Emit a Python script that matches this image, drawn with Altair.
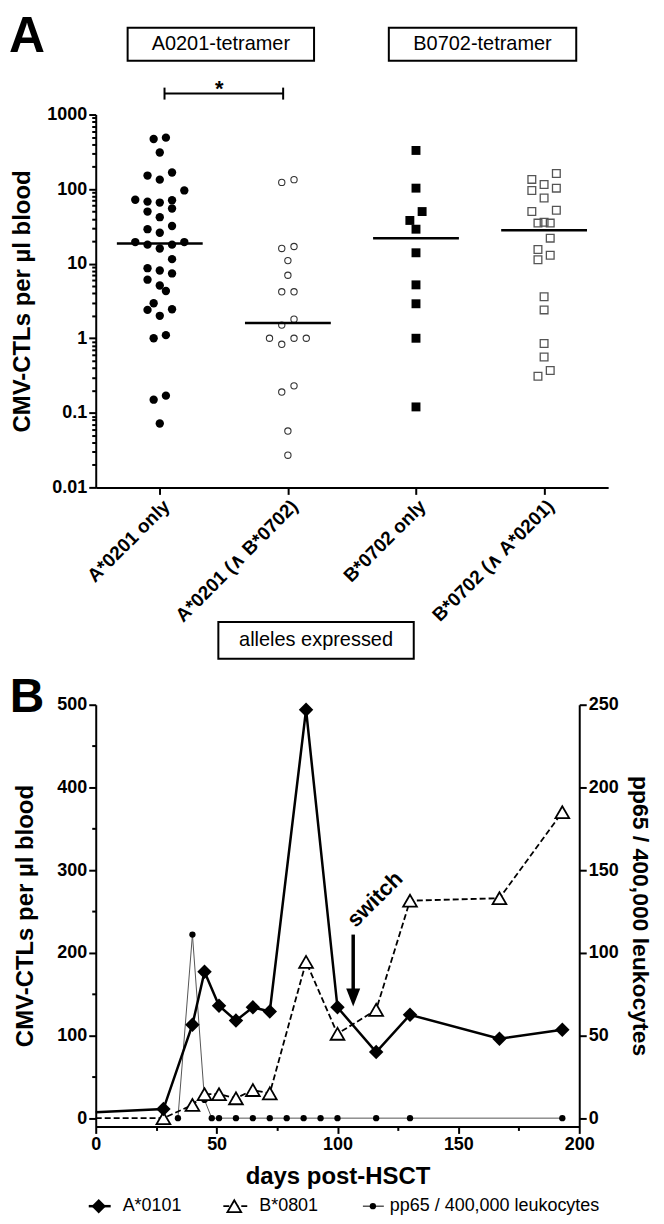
import json
import math
import altair as alt
import pandas as pd

FONT = "Liberation Sans"

# ---------------- Panel A data ----------------
categories = ["A*0201 only", "A*0201 (∧ B*0702)", "B*0702 only", "B*0702 (∧ A*0201)"]
tetramers = ["A0201-tetramer", "B0702-tetramer"]
a0201_only = [490, 470, 310, 167, 152, 134, 96, 72, 71, 68, 66, 55, 50, 42, 32, 29, 26,
              19.5, 19.5, 18, 18, 16, 11.5, 8.7, 8.1, 7.4, 6.1, 5.1, 4.3, 2.95, 2.45, 2.4,
              2.0, 1.1, 1.0, 0.17, 0.15, 0.072]
a0201_with_b0702 = [134, 123, 17, 16, 11, 7.0, 4.2, 4.2, 1.8, 1.5, 1.0, 1.0, 1.0, 0.83,
                    0.23, 0.19, 0.057, 0.027]
b0702_only = [330, 103, 50, 38, 29, 14, 5.2, 2.9, 1.0, 0.12]
b0702_with_a0201 = [162, 135, 115, 103, 96, 76, 52, 50, 36, 35, 35, 22, 15.5, 13, 11.3,
                    3.6, 2.4, 0.85, 0.56, 0.37, 0.31]
medians = [18.6, 1.6, 22, 28]
x_title_a = "alleles expressed"
y_title = "CMV-CTLs per µl blood"

# ---------------- Panel B data ----------------
ctl_days = [0, 28, 40, 45, 51, 58, 65, 72, 87, 100, 116, 130, 167, 193]
a0101 = [7, 11, 113, 177, 136, 118, 134, 129, 494, 134, 80, 125, 96, 107]
b0801 = [0, 0, 16, 29, 29, 24, 34, 30, 189, 102, 131, 263, 266, 370]
pp65_days = [34, 40, 45, 48, 51, 58, 65, 72, 79, 86, 93, 100, 116, 130, 193]
pp65 = [0, 111, 11, 0, 0, 0, 0, 0, 0, 0, 0, 0, 0, 0, 0]
series_names = ["A*0101", "B*0801", "pp65 / 400,000 leukocytes"]
switch_label = "switch"
switch_day = 106.5
switch_top, switch_end, switch_head = 222, 152, 146

# ---------------- helpers ----------------
one = pd.DataFrame({"a": [0]})


def txt(text, x, y, size, weight="normal", angle=None, align="center", baseline="middle"):
    kw = dict(text=text, fontSize=size, fontWeight=weight, align=align,
              baseline=baseline, font=FONT, color="black")
    if angle is not None:
        kw["angle"] = angle
    return alt.Chart(one).mark_text(**kw).encode(x=alt.value(x), y=alt.value(y))


def box(x1, x2, y1, y2):
    return alt.Chart(one).mark_rect(fill="white", stroke="black", strokeWidth=2).encode(
        x=alt.value(x1), x2=alt.value(x2), y=alt.value(y1), y2=alt.value(y2))


def hline(x1, x2, y, w=2, dash=None):
    kw = dict(color="black", strokeWidth=w)
    if dash:
        kw["strokeDash"] = dash
    return alt.Chart(one).mark_rule(**kw).encode(x=alt.value(x1), x2=alt.value(x2), y=alt.value(y))


def vline(x, y1, y2, w=2):
    return alt.Chart(one).mark_rule(color="black", strokeWidth=w).encode(
        x=alt.value(x), y=alt.value(y1), y2=alt.value(y2))


# beeswarm-like row arrangement (computed from the values)
STEP = 0.0957


def swarm_slots(values, thresh=0.165):
    order = sorted(range(len(values)), key=lambda i: -values[i])
    rows = []
    for i in order:
        lv = math.log10(values[i])
        if rows and rows[-1]["top"] - lv <= thresh:
            rows[-1]["items"].append(i)
        else:
            rows.append({"top": lv, "items": [i]})
    slots = [0.0] * len(values)
    for r in rows:
        items = sorted(r["items"], key=lambda i: values[i])
        n = len(items)
        pos = sorted([k - (n - 1) / 2 for k in range(n)], key=lambda s: (abs(s), s))
        for i, s in zip(items, pos):
            slots[i] = s
    return slots


recs = []
for ci, vals in enumerate([a0201_only, a0201_with_b0702, b0702_only, b0702_with_a0201]):
    for v, s in zip(vals, swarm_slots(vals)):
        recs.append({"cat": ci, "value": v, "slot": s})
dfA = pd.DataFrame(recs)

log_ticks = [k * 10.0 ** e for e in range(-2, 3) for k in range(1, 10)] + [1000.0]
decade = "abs(log(datum.value)/LN10 - round(log(datum.value)/LN10)) < 0.001"

axA_y = alt.Axis(values=log_ticks, labelExpr=f"{decade} ? toString(datum.value) : ''",
                 tickSize={"condition": {"test": decade, "value": 7}, "value": 4},
                 labelOverlap=False, labelFlush=False, title=y_title,
                 titleX=-73, titleY=187, titleBaseline="middle", titleAngle=270)
axA_x = alt.Axis(values=[0, 1, 2, 3],
                 labelExpr=json.dumps(categories, ensure_ascii=False) + "[datum.value]",
                 labelAngle=315, tickSize=7, title=None, labelOverlap=False, labelFlush=False,
                 labelFontSize=19)


def xA(f):
    return alt.X(f, type="quantitative",
                 scale=alt.Scale(domain=[-0.5, 3.5], nice=False, zero=False), axis=axA_x)


def yA(f):
    return alt.Y(f, type="quantitative",
                 scale=alt.Scale(type="log", domain=[0.01, 1000], nice=False), axis=axA_y)


baseA = alt.Chart(dfA).transform_calculate(xpos=f"datum.cat + datum.slot * {STEP}")
stylesA = [
    dict(shape="circle", filled=True, color="black", size=70, opacity=1),
    dict(shape="circle", filled=False, color="#333333", size=40, strokeWidth=1.1, opacity=1),
    dict(shape="square", filled=True, color="black", size=80, opacity=1),
    dict(shape="square", filled=False, color="#555555", size=60, strokeWidth=1.3, opacity=1),
]
pointsA = [baseA.transform_filter(f"datum.cat == {i}").mark_point(**st).encode(
    x=xA("xpos:Q"), y=yA("value:Q")) for i, st in enumerate(stylesA)]

dfM = pd.DataFrame({"cat": list(range(4)), "median": medians})
medA = alt.Chart(dfM).transform_calculate(
    x1="datum.cat - 0.335", x2="datum.cat + 0.335").mark_rule(
    color="black", strokeWidth=2.5).encode(x=xA("x1:Q"), x2="x2:Q", y=yA("median:Q"))

annA = [
    txt("A", -69, -63, 50, "bold", baseline="alphabetic"),
    box(32, 219, -87, -54), txt(tetramers[0], 125.5, -70.5, 20),
    box(294, 482, -87, -54), txt(tetramers[1], 388, -70.5, 20),
    hline(69, 188, -21, 2), vline(69, -27, -15, 2), vline(188, -27, -15, 2),
    txt("*", 124, -19, 22, "bold", baseline="alphabetic"),
    box(123, 319, 509, 546), txt(x_title_a, 221, 527.5, 20),
]

panelA = alt.layer(*pointsA, medA, *annA).properties(width=514, height=374)

# ---------------- Panel B ----------------
dfC = pd.DataFrame({"day": ctl_days, "a0101": a0101, "b0801": b0801})
dfP = pd.DataFrame({"day": pp65_days, "pp65": pp65})
dfS = pd.DataFrame({"day": [switch_day], "top": [switch_top], "end": [switch_end],
                    "head": [switch_head]})

axB_x = alt.Axis(values=list(range(0, 201, 25)),
                 labelExpr="datum.value % 50 == 0 ? datum.label : ''",
                 tickSize={"condition": {"test": "datum.value % 50 == 0", "value": 7}, "value": 4},
                 labelFlush=False, labelOverlap=False, title="days post-HSCT",
                 titleY=50, titleX=242.5, titleBaseline="middle")
axB_l = alt.Axis(values=list(range(0, 501, 50)),
                 labelExpr="datum.value % 100 == 0 ? datum.label : ''",
                 tickSize={"condition": {"test": "datum.value % 100 == 0", "value": 7}, "value": 4},
                 labelFlush=False, labelOverlap=False, title=y_title, orient="left",
                 titleX=-70, titleY=211.5, titleBaseline="middle", titleAngle=270)
axB_r = alt.Axis(values=list(range(0, 251, 50)), tickSize=7, labelFlush=False,
                 labelOverlap=False, title=series_names[2], orient="right",
                 titleX=60, titleY=211.5, titleBaseline="middle", titleAngle=90,
                 titleFontSize=23)


def xB(f):
    return alt.X(f, type="quantitative",
                 scale=alt.Scale(domain=[0, 200], nice=False, zero=False), axis=axB_x)


def yL(f):
    return alt.Y(f, type="quantitative",
                 scale=alt.Scale(domain=[-10, 500], nice=False, zero=False), axis=axB_l)


def yR(f):
    return alt.Y(f, type="quantitative",
                 scale=alt.Scale(domain=[-5, 250], nice=False, zero=False), axis=axB_r)


arrow_path = "M-0.78,-1L0.78,-1L0,1Z"

right = alt.layer(
    alt.Chart(dfP).mark_line(color="#555555", strokeWidth=1).encode(x=xB("day:Q"), y=yR("pp65:Q")),
    alt.Chart(dfP).mark_circle(color="black", size=40, opacity=1).encode(x=xB("day:Q"), y=yR("pp65:Q")),
)

left = alt.layer(
    alt.Chart(dfC).mark_line(color="black", strokeWidth=1.8, strokeDash=[6, 3]).encode(
        x=xB("day:Q"), y=yL("b0801:Q")),
    alt.Chart(dfC).mark_line(color="black", strokeWidth=2.5).encode(
        x=xB("day:Q"), y=yL("a0101:Q")),
    alt.Chart(dfC).transform_filter("datum.day > 0").mark_point(
        shape="triangle-up", filled=True, fill="white", stroke="black", strokeWidth=1.8,
        size=190, opacity=1).encode(x=xB("day:Q"), y=yL("b0801:Q")),
    alt.Chart(dfC).transform_filter("datum.day > 0").mark_point(
        shape="diamond", filled=True, color="black", size=210, opacity=1).encode(
        x=xB("day:Q"), y=yL("a0101:Q")),
    alt.Chart(dfS).mark_rule(color="black", strokeWidth=3.5).encode(
        x=xB("day:Q"), y=yL("top:Q"), y2="end:Q"),
    alt.Chart(dfS).mark_point(shape=arrow_path, filled=True, color="black", size=324,
                              opacity=1).encode(x=xB("day:Q"), y=yL("head:Q")),
    txt(switch_label, 280, 195, 22, "bold", angle=315),
    txt("B", -69, 7, 48, "bold", baseline="alphabetic"),
    # legend
    hline(-7, 15, 503, 2.5),
    alt.Chart(one).mark_point(shape="diamond", filled=True, color="black", size=210,
                              opacity=1).encode(x=alt.value(3), y=alt.value(503)),
    txt(series_names[0], 27, 503, 18, align="left"),
    hline(128, 152, 503, 1.8, dash=[6, 3]),
    alt.Chart(one).mark_point(shape="triangle-up", filled=True, fill="white", stroke="black",
                              strokeWidth=1.8, size=190, opacity=1).encode(
        x=alt.value(139), y=alt.value(503)),
    txt(series_names[1], 164, 503, 18, align="left"),
    hline(268, 289, 503, 1),
    alt.Chart(one).mark_circle(color="black", size=40, opacity=1).encode(
        x=alt.value(278), y=alt.value(503)),
    txt(series_names[2], 295, 503, 18, align="left"),
)

panelB = alt.layer(right, left).resolve_scale(y="independent").properties(width=485, height=423)

chart = alt.vconcat(panelA, panelB, spacing=218, bounds="flush").properties(
    padding={"left": 0, "top": 2, "right": 6, "bottom": 0}
).configure_axis(
    domainColor="black", domainWidth=2, tickColor="black", tickWidth=2,
    labelColor="black", labelFont=FONT, labelFontSize=18, labelFontWeight="bold",
    titleFont=FONT, titleFontSize=24, titleFontWeight="bold", titleColor="black",
    grid=False, labelPadding=2
).configure_view(stroke=None)

chart.save("out.html", embed_options={"renderer": "svg", "actions": False})
